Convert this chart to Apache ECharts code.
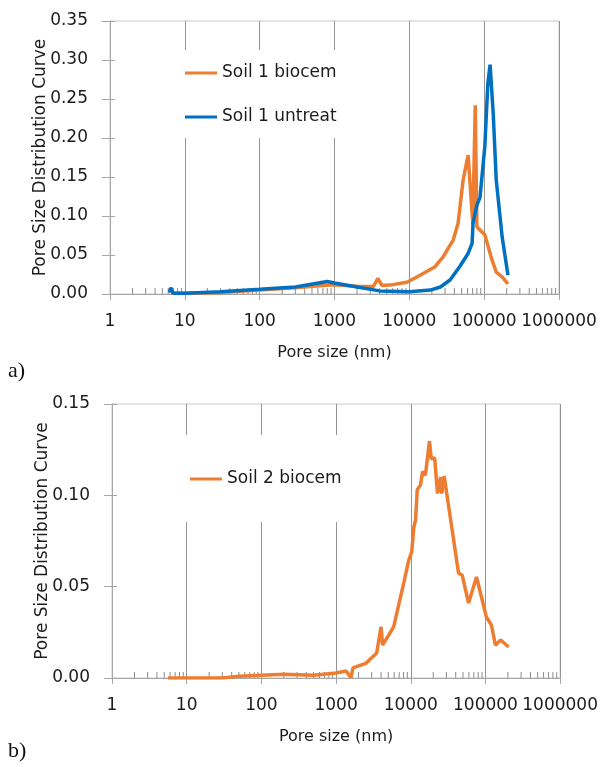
<!DOCTYPE html>
<html>
<head>
<meta charset="utf-8">
<script src="https://cdn.jsdelivr.net/npm/echarts@6/dist/echarts.min.js"></script>
<style>
  html, body { margin: 0; padding: 0; background: #fff; }
  #chart { width: 601px; height: 767px; }
</style>
</head>
<body>
<div id="chart"></div>
<script>
// pore size (nm) and distribution values
var soil1BiocemX = [6.5, 10, 30, 100, 300, 520, 950, 2000, 3300, 3800, 4300, 6000, 9300, 13900, 22100, 24200, 28000, 38500, 44900, 52300, 61000, 70600, 76000, 80000, 102000, 127000, 145000, 174000, 208000];
var soil1BiocemY = [0.001, 0.001, 0.002, 0.005, 0.008, 0.010, 0.012, 0.010, 0.0095, 0.020, 0.011, 0.012, 0.015, 0.024, 0.035, 0.040, 0.047, 0.069, 0.091, 0.146, 0.178, 0.090, 0.242, 0.086, 0.076, 0.044, 0.028, 0.022, 0.013];

var soil1UntreatX = [6.2, 6.5, 7, 10, 30, 100, 300, 800, 1000, 2000, 4000, 10000, 19000, 26000, 35000, 47000, 61000, 69000, 71000, 80000, 88000, 102000, 112000, 120000, 132000, 145000, 174000, 208000];
var soil1UntreatY = [0.002, 0.008, 0.001, 0.001, 0.003, 0.006, 0.009, 0.016, 0.014, 0.009, 0.004, 0.003, 0.005, 0.009, 0.018, 0.035, 0.052, 0.065, 0.091, 0.114, 0.124, 0.189, 0.270, 0.294, 0.232, 0.146, 0.073, 0.024];

var soil2BiocemX = [5.6, 30, 50, 100, 200, 500, 1000, 1360, 1590, 1680, 2500, 3500, 4000, 4200, 5900, 8100, 9400, 10300, 11000, 11600, 12200, 13500, 14400, 15700, 17800, 18800, 20900, 22800, 25100, 26000, 28000, 43600, 48800, 59400, 75900, 103000, 120000, 136000, 160000, 204000];
var soil2BiocemY = [0.0, 0.0, 0.001, 0.0015, 0.002, 0.0015, 0.0027, 0.0038, 0.0002, 0.0055, 0.008, 0.0137, 0.028, 0.018, 0.028, 0.0525, 0.0645, 0.069, 0.0826, 0.0865, 0.103, 0.1056, 0.113, 0.111, 0.1297, 0.120, 0.1204, 0.101, 0.110, 0.101, 0.1106, 0.0575, 0.0563, 0.041, 0.0553, 0.0333, 0.029, 0.018, 0.0208, 0.017];

var minorTickValues = [];
for (var k = 1; k < 1000000; k *= 10) {
    for (var m = 2; m <= 9; m++) minorTickValues.push(m * k);
}

function pairs(xs, ys) {
    var out = [];
    for (var i = 0; i < xs.length; i++) out.push([xs[i], ys[i]]);
    return out;
}

var FONT = 'DejaVu Sans';
var TXT = '#1c1c1c';
var AXIS = '#a6a6a6';
var GRIDC = '#949494';
var ORANGE = '#ED7D31';
var BLUE = '#0070C0';

function xAxisFor(idx) {
    return {
        type: 'log', logBase: 10, gridIndex: idx, min: 1, max: 1000000,
        name: 'Pore size (nm)', nameLocation: 'middle', nameGap: 51, nameMoveOverlap: false,
        nameTextStyle: { fontFamily: FONT, fontSize: 16, color: TXT },
        axisLine: { lineStyle: { color: AXIS, width: 1 } },
        axisTick: { show: true, length: 6, lineStyle: { color: AXIS } },
        axisLabel: {
            fontFamily: FONT, fontSize: 17, color: TXT, margin: 19,
            formatter: function (v) { return String(Math.round(v)); }
        },
        splitLine: { show: true, lineStyle: { color: GRIDC, width: 1 } }
    };
}

function yAxisFor(idx, max) {
    return {
        type: 'value', gridIndex: idx, min: 0, max: max, interval: 0.05,
        name: 'Pore Size Distribution Curve', nameLocation: 'middle', nameGap: 61, nameMoveOverlap: false,
        nameTextStyle: { fontFamily: FONT, fontSize: 17, color: TXT },
        axisLine: { show: true, lineStyle: { color: AXIS, width: 1 } },
        axisTick: { show: true, length: 8, lineStyle: { color: AXIS } },
        axisLabel: {
            fontFamily: FONT, fontSize: 17, color: TXT, margin: 22,
            formatter: function (v) { return v.toFixed(2); }
        },
        splitLine: { show: false }
    };
}

// overlay axis so the y ticks cross the axis line
function yInnerFor(idx, max) {
    return {
        type: 'value', gridIndex: idx, min: 0, max: max, interval: 0.05, position: 'left',
        axisLine: { show: false },
        axisTick: { show: true, inside: true, length: 5, lineStyle: { color: AXIS } },
        axisLabel: { show: false },
        splitLine: { show: false }
    };
}

function minorTicks(idx) {
    return {
        type: 'custom', xAxisIndex: idx, yAxisIndex: idx * 2, silent: true, z: 1,
        data: minorTickValues.map(function (v) { return [v, 0]; }),
        renderItem: function (params, api) {
            var p = api.coord([api.value(0), 0]);
            return {
                type: 'line',
                shape: { x1: p[0], y1: p[1], x2: p[0], y2: p[1] - 6 },
                style: { stroke: '#8c8c8c', lineWidth: 1 }
            };
        }
    };
}

function lineSeries(name, data, color, xi) {
    return {
        name: name, type: 'line', xAxisIndex: xi, yAxisIndex: xi * 2,
        data: data, showSymbol: false, symbol: 'none', z: 3,
        lineStyle: { color: color, width: 3.5 }, itemStyle: { color: color }
    };
}

var chart = echarts.init(document.getElementById('chart'), null, { renderer: 'canvas' });

var option = {
    backgroundColor: '#fff',
    animation: false,
    grid: [
        { left: 110, top: 21, width: 449, height: 273, show: true, borderColor: '#c8c8c8', borderWidth: 1, backgroundColor: 'transparent' },
        { left: 112, top: 404, width: 450, height: 274, show: true, borderColor: '#c8c8c8', borderWidth: 1, backgroundColor: 'transparent' }
    ],
    legend: [
        {
            data: ['Soil 1 biocem', 'Soil 1 untreat'], orient: 'vertical', icon: 'rect',
            left: 175, top: 50, padding: [13, 8, 11, 10], itemGap: 24,
            itemWidth: 32, itemHeight: 3, backgroundColor: '#fff',
            textStyle: { fontFamily: FONT, fontSize: 17, color: TXT, lineHeight: 20 }
        },
        {
            data: ['Soil 2 biocem'], orient: 'vertical', icon: 'rect',
            left: 175, top: 435, padding: [34, 10, 33, 15],
            itemWidth: 32, itemHeight: 3, backgroundColor: '#fff',
            textStyle: { fontFamily: FONT, fontSize: 17, color: TXT, lineHeight: 20 }
        }
    ],
    xAxis: [xAxisFor(0), xAxisFor(1)],
    yAxis: [yAxisFor(0, 0.35), yInnerFor(0, 0.35), yAxisFor(1, 0.15), yInnerFor(1, 0.15)],
    graphic: [
        { type: 'text', left: 8, top: 360, style: { text: 'a)', font: '22px "Liberation Serif"', fill: '#111' } },
        { type: 'text', left: 8, top: 740, style: { text: 'b)', font: '22px "Liberation Serif"', fill: '#111' } }
    ],
    series: [
        minorTicks(0),
        minorTicks(1),
        lineSeries('Soil 1 biocem', pairs(soil1BiocemX, soil1BiocemY), ORANGE, 0),
        lineSeries('Soil 1 untreat', pairs(soil1UntreatX, soil1UntreatY), BLUE, 0),
        lineSeries('Soil 2 biocem', pairs(soil2BiocemX, soil2BiocemY), ORANGE, 1)
    ]
};

chart.setOption(option);
</script>
</body>
</html>
